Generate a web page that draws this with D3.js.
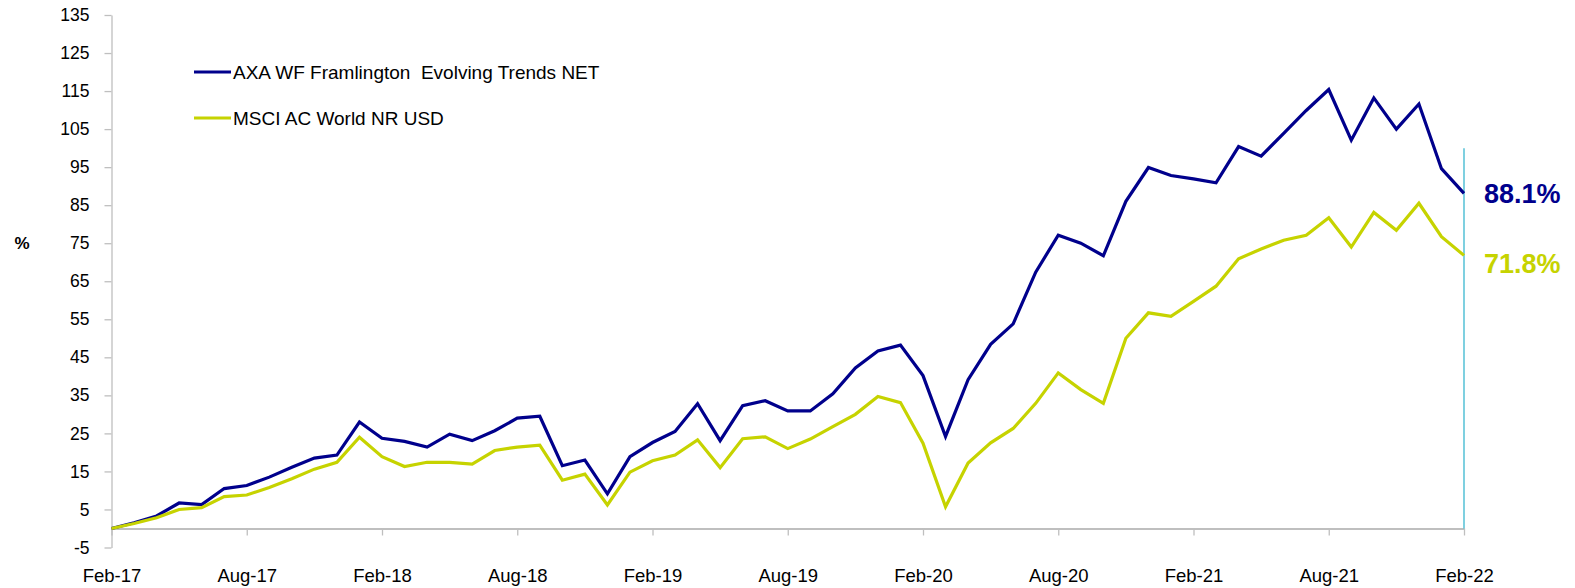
<!DOCTYPE html>
<html>
<head>
<meta charset="utf-8">
<script src="https://cdn.jsdelivr.net/npm/d3@7"></script>
<style>
  body { margin: 0; background: #fff; }
  svg { display: block; font-family: "Liberation Sans", Arial, sans-serif; }
  .legend text { white-space: pre; }
</style>
</head>
<body>
<svg id="chart" width="1575" height="588"></svg>
<script>
// monthly points, Feb-17 .. Feb-22
const months = d3.timeMonth.range(new Date(2017, 1, 1), new Date(2022, 2, 1))
const fmt = d3.timeFormat('%b-%y')
const categories = months.map(fmt)

const seriesNames = ['AXA WF Framlington  Evolving Trends NET', 'MSCI AC World NR USD']

const fund = [
  0, 1.5, 3.3, 6.7, 6.3, 10.5, 11.3, 13.5, 16.1, 18.5, 19.3, 28.0,
  23.7, 22.9, 21.4, 24.8, 23.1, 25.7, 29.0, 29.5, 16.5, 18.0, 9.1, 18.9,
  22.6, 25.5, 32.8, 23.1, 32.3, 33.6, 30.9, 30.9, 35.4, 42.2, 46.7, 48.2,
  40.2, 24.2, 39.1, 48.4, 53.8, 67.4, 77.1, 75.0, 71.7, 86.0, 94.9, 92.8,
  91.9, 90.9, 100.4, 97.9, 103.9, 109.9, 115.4, 102.1, 113.2, 105.0, 111.6, 94.6,
  88.1
]

const index = [
  0, 1.3, 2.8, 5.0, 5.5, 8.4, 8.8, 10.8, 13.1, 15.6, 17.4, 24.0,
  18.9, 16.3, 17.4, 17.4, 16.9, 20.5, 21.4, 21.9, 12.7, 14.3, 6.2, 14.8,
  17.8, 19.3, 23.3, 16.0, 23.6, 24.1, 21.0, 23.5, 26.8, 30.0, 34.7, 33.1,
  22.4, 5.7, 17.2, 22.5, 26.3, 32.9, 40.9, 36.5, 32.9, 50.0, 56.7, 55.8,
  59.7, 63.7, 70.9, 73.5, 75.8, 77.1, 81.7, 74.0, 83.1, 78.4, 85.5, 76.7,
  71.8
]

const yTicks = d3.range(-5, 136, 10)
const xTickLabels = ['Feb-17', 'Aug-17', 'Feb-18', 'Aug-18', 'Feb-19', 'Aug-19',
  'Feb-20', 'Aug-20', 'Feb-21', 'Aug-21', 'Feb-22']
const markerTop = 100

const colors = ['#00008c', '#c6d300']
const axisColor = '#bfbfbf'

const svg = d3.select('#chart')

const x = d3.scalePoint().domain(categories).range([111.5, 1464])
const y = d3.scaleLinear().domain([-5, 135]).range([547.5, 15])

// y axis
const yAxis = d3.axisLeft(y).tickValues(yTicks).tickFormat(d => String(d))
  .tickSize(7).tickSizeOuter(0).tickPadding(15)
const gy = svg.append('g').attr('transform', `translate(${x(categories[0])},0)`).call(yAxis)
gy.select('.domain').attr('stroke', axisColor).attr('stroke-width', 1.3)
gy.selectAll('.tick line').attr('stroke', axisColor).attr('stroke-width', 1.3)
gy.selectAll('.tick text').attr('font-size', 17.5).attr('fill', '#000')

// x axis on zero line
const xAxis = d3.axisBottom(x).tickValues(xTickLabels).tickSize(7).tickSizeOuter(0).tickPadding(33)
const gx = svg.append('g').attr('transform', `translate(0,${y(0)})`).call(xAxis)
gx.select('.domain').attr('stroke', axisColor).attr('stroke-width', 1.8)
gx.selectAll('.tick line').attr('stroke', axisColor).attr('stroke-width', 1.3)
gx.selectAll('.tick text').attr('font-size', 18.5).attr('fill', '#000')

// % label
svg.append('text')
  .attr('x', 22).attr('y', y(75))
  .attr('dy', '0.35em')
  .attr('text-anchor', 'middle')
  .attr('font-size', 17).attr('font-weight', 'bold')
  .text('%')

// end marker line
const last = categories[categories.length - 1]
svg.append('line')
  .attr('x1', x(last)).attr('x2', x(last))
  .attr('y1', y(0)).attr('y2', y(markerTop))
  .attr('stroke', '#3ab7cf').attr('stroke-width', 1.3)

const line = d3.line()
  .x((d, i) => x(categories[i]))
  .y(d => y(d))

const series = [fund, index]
series.forEach((s, i) => {
  svg.append('path')
    .attr('d', line(s))
    .attr('fill', 'none')
    .attr('stroke', colors[i])
    .attr('stroke-width', 3.2)
    .attr('stroke-linejoin', 'miter')
})

// legend
const legend = svg.append('g').attr('class', 'legend').attr('transform', 'translate(194,72)')
seriesNames.forEach((name, i) => {
  const g = legend.append('g').attr('transform', `translate(0,${i * 46})`)
  g.append('line').attr('x1', 0).attr('x2', 37)
    .attr('stroke', colors[i]).attr('stroke-width', 3)
  g.append('text').attr('x', 39).attr('dy', '0.35em')
    .attr('font-size', 19).attr('fill', '#000')
    .text(name)
})

// end value labels
const labelShift = [0, 8]
series.forEach((s, i) => {
  const v = s[s.length - 1]
  svg.append('text')
    .attr('x', x(last) + 20)
    .attr('y', y(v) + labelShift[i])
    .attr('dy', '0.35em')
    .attr('font-size', 27).attr('font-weight', 'bold')
    .attr('fill', colors[i])
    .text(v.toFixed(1) + '%')
})
</script>
</body>
</html>
